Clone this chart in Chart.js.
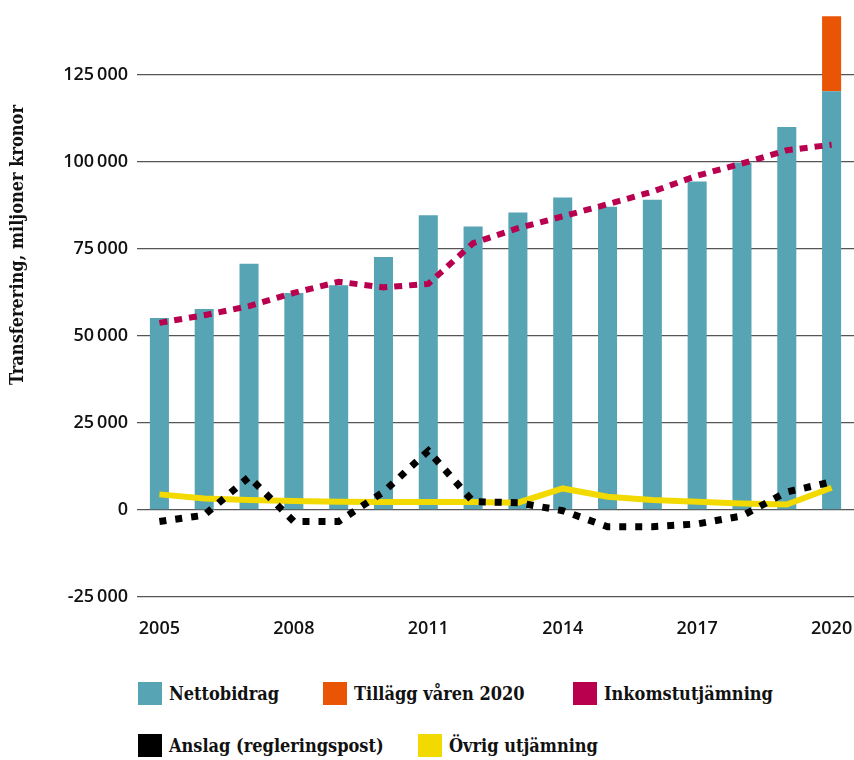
<!DOCTYPE html>
<html>
<head>
<meta charset="utf-8">
<script src="https://cdn.jsdelivr.net/npm/chart.js@4.4.0/dist/chart.umd.min.js"></script>
<style>
  body { margin: 0; background: #fff; }
  #wrap { position: relative; width: 854px; height: 760px; }
  #chartCanvas { position: absolute; left: 0; top: 0; }
  .legend-item {
    position: absolute; display: flex; align-items: center; height: 23px;
    font: bold 18px "DejaVu Serif Condensed", "DejaVu Serif", serif; color: #111;
    white-space: nowrap;
  }
  .legend-item .box { width: 24px; height: 23px; margin-right: 7px; }
</style>
</head>
<body>
<div id="wrap">
  <canvas id="chartCanvas" width="854" height="640"></canvas>
  <div id="legend"></div>
</div>
<script>
const years = ["2005", "2006", "2007", "2008", "2009", "2010", "2011", "2012",
               "2013", "2014", "2015", "2016", "2017", "2018", "2019", "2020"];
const nettobidrag = [55200, 57800, 70800, 62400, 64600, 72700, 84700, 81500,
                     85500, 89800, 87200, 89200, 94400, 99800, 110100, 120400];
const tillagg = [null, null, null, null, null, null, null, null,
                 null, null, null, null, null, null, null, 21500];
const inkomstutjamning = [53800, 56000, 58600, 62400, 65600, 64000, 65000, 76700,
                          81000, 84400, 87900, 91500, 96100, 99600, 103400, 105000];
const anslag = [-3300, -1500, 9500, -3300, -3300, 5200, 17000, 2400,
                2100, -200, -4800, -4800, -4000, -1700, 5200, 8100];
const ovrigUtjamning = [4500, 3300, 2900, 2600, 2400, 2300, 2300, 2300,
                        2100, 6200, 3800, 2900, 2400, 1900, 1600, 6400];
const yTickValues = [-25000, 0, 25000, 50000, 75000, 100000, 125000];
const xTickLabels = ["2005", "2008", "2011", "2014", "2017", "2020"];
const yTitle = "Transferering, miljoner kronor";

const colors = {
  netto: "#57a4b4",
  tillagg: "#e95504",
  inkomst: "#b8004f",
  anslag: "#000000",
  ovrig: "#f2d900"
};

function formatNumber(v) {
  const s = String(Math.abs(v)).replace(/\B(?=(\d{3})+(?!\d))/g, "\u2009");
  return (v < 0 ? "-" : "") + s;
}

// draws the rotated y axis title a bit above the middle, like the original
const yTitlePlugin = {
  id: "yTitle",
  afterDraw(chart) {
    const c = chart.ctx;
    c.save();
    c.translate(18, 245);
    c.rotate(-Math.PI / 2);
    c.font = 'bold 18px "DejaVu Serif Condensed", "DejaVu Serif", serif';
    c.fillStyle = "#111";
    c.textAlign = "center";
    c.textBaseline = "middle";
    c.fillText(yTitle, 0, 0);
    c.restore();
  }
};

const tickFont = { family: "Open Sans", size: 18, weight: "600" };

const ctx = document.getElementById("chartCanvas").getContext("2d");
const chart = new Chart(ctx, {
  data: {
    labels: years,
    datasets: [
      { type: "bar", label: "Nettobidrag", data: nettobidrag, backgroundColor: colors.netto,
        stack: "bars", order: 3 },
      { type: "bar", label: "Tillägg våren 2020", data: tillagg, backgroundColor: colors.tillagg,
        stack: "bars", order: 3 },
      { type: "line", label: "Inkomstutjämning", data: inkomstutjamning, borderColor: colors.inkomst,
        backgroundColor: colors.inkomst, borderWidth: 6, borderDash: [8, 7], stack: "l1", order: 2 },
      { type: "line", label: "Anslag (regleringspost)", data: anslag, borderColor: colors.anslag,
        backgroundColor: colors.anslag, borderWidth: 7, borderDash: [7, 9], stack: "l2", order: 0 },
      { type: "line", label: "Övrig utjämning", data: ovrigUtjamning, borderColor: colors.ovrig,
        backgroundColor: colors.ovrig, borderWidth: 6, stack: "l3", order: 1 }
    ]
  },
  options: {
    responsive: false,
    animation: false,
    devicePixelRatio: 1,
    layout: { padding: { top: 16, left: 0, right: 0, bottom: 0 } },
    datasets: {
      bar: { categoryPercentage: 1, barPercentage: 0.425 },
      line: { pointRadius: 0, tension: 0, fill: false, borderCapStyle: "butt" }
    },
    plugins: {
      legend: { display: false },
      tooltip: { enabled: false }
    },
    scales: {
      x: {
        stacked: true,
        grid: { display: false, drawTicks: false },
        border: { display: false },
        afterFit: scale => {
          scale.height = 43;
          scale.paddingLeft = 0;
          scale.paddingRight = 0;
        },
        ticks: {
          autoSkip: false,
          maxRotation: 0,
          padding: 21,
          color: "#111",
          font: tickFont,
          callback: function (value) {
            const l = this.getLabelForValue(value);
            return xTickLabels.includes(l) ? l : "";
          }
        }
      },
      y: {
        stacked: true,
        min: -25000,
        max: 142000,
        afterBuildTicks: scale => {
          scale.ticks = yTickValues.map(v => ({ value: v }));
        },
        afterFit: scale => {
          scale.width = 137;
          scale.paddingTop = 0;
          scale.paddingBottom = 0;
        },
        grid: { color: "#555", lineWidth: 1.3, drawTicks: false },
        border: { display: false },
        ticks: {
          padding: 9,
          color: "#111",
          font: tickFont,
          callback: v => formatNumber(v)
        }
      }
    }
  },
  plugins: [yTitlePlugin]
});

// html legend, two rows as in the original
const legendRows = [[0, 1, 2], [3, 4]];
const legendLefts = [[138, 323, 573], [138, 418]];
const legendTops = [682, 734];
const legend = document.getElementById("legend");
legendRows.forEach((row, r) => {
  row.forEach((dsIndex, i) => {
    const ds = chart.data.datasets[dsIndex];
    const item = document.createElement("div");
    item.className = "legend-item";
    item.style.left = legendLefts[r][i] + "px";
    item.style.top = legendTops[r] + "px";
    const box = document.createElement("span");
    box.className = "box";
    box.style.background = ds.type === "bar" ? ds.backgroundColor : ds.borderColor;
    const text = document.createElement("span");
    text.textContent = ds.label;
    item.appendChild(box);
    item.appendChild(text);
    legend.appendChild(item);
  });
});
</script>
</body>
</html>
